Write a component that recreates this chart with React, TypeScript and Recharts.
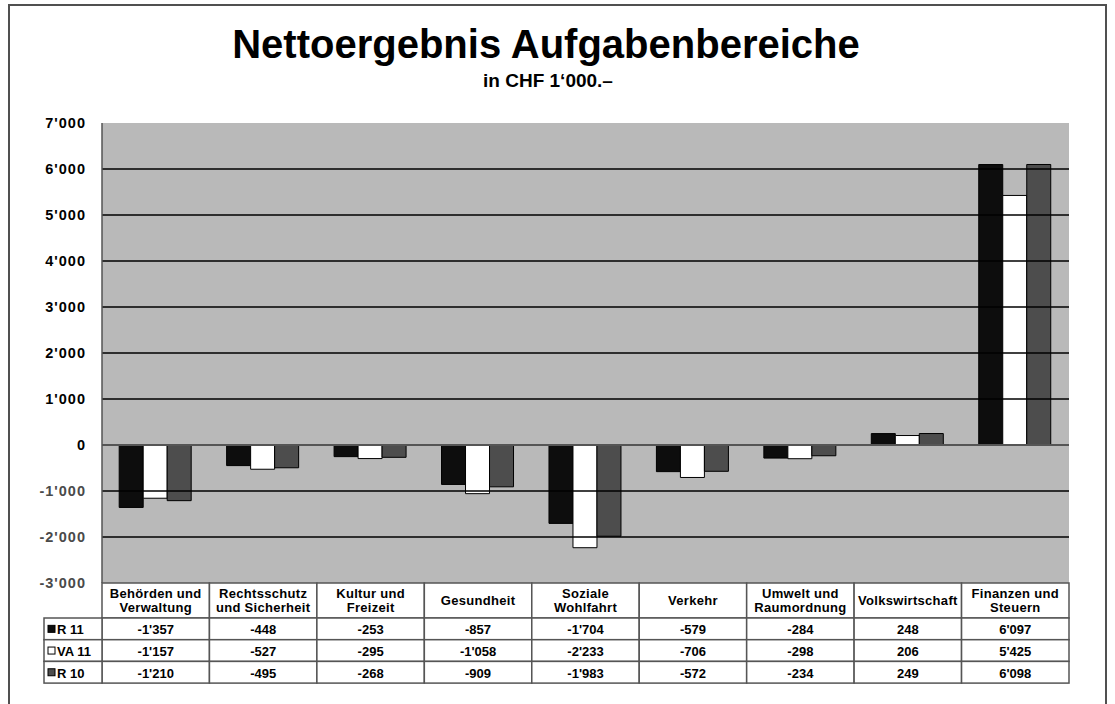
import React from 'react';
import { BarChart, Bar, XAxis, YAxis, CartesianGrid, ReferenceLine } from 'recharts';

const CATEGORIES = [
  'Behörden und\nVerwaltung',
  'Rechtsschutz\nund Sicherheit',
  'Kultur und\nFreizeit',
  'Gesundheit',
  'Soziale\nWohlfahrt',
  'Verkehr',
  'Umwelt und\nRaumordnung',
  'Volkswirtschaft',
  'Finanzen und\nSteuern',
];
const R11 = [-1357, -448, -253, -857, -1704, -579, -284, 248, 6097];
const VA11 = [-1157, -527, -295, -1058, -2233, -706, -298, 206, 5425];
const R10 = [-1210, -495, -268, -909, -1983, -572, -234, 249, 6098];
const Y_TICKS = [-3000, -2000, -1000, 0, 1000, 2000, 3000, 4000, 5000, 6000, 7000];
const GRID_VALUES = [-2000, -1000, 1000, 2000, 3000, 4000, 5000, 6000];

const SERIES = [
  { key: 'r11', name: 'R 11', values: R11, color: '#0d0d0d' },
  { key: 'va11', name: 'VA 11', values: VA11, color: '#ffffff' },
  { key: 'r10', name: 'R 10', values: R10, color: '#4d4d4d' },
];

const data = CATEGORIES.map((name, i) => ({
  name,
  r11: R11[i],
  va11: VA11[i],
  r10: R10[i],
}));

const FONT = '"Liberation Sans", Arial, sans-serif';
const W = 1115;
const H = 704;
const PLOT_LEFT = 102;
const PLOT_RIGHT = 1069;
const PLOT_TOP = 123;
const PLOT_BOTTOM = 583;
const COL_W = (PLOT_RIGHT - PLOT_LEFT) / CATEGORIES.length;
const HEAD_H = 35;
const ROW_H = 21.7;
const LEGEND_LEFT = 44;
const BORDER = '#555';

// thousands with apostrophe, e.g. -1'357
const fmt = (n: number): string => {
  if (n < 0) return '-' + fmt(-n);
  return String(n).replace(/\B(?=(\d{3})+(?!\d))/g, "'");
};

function YTick(props: any) {
  const { y, payload } = props;
  const v = payload.value;
  return (
    <text
      x={86}
      y={y}
      textAnchor="end"
      dominantBaseline="central"
      fontFamily={FONT}
      fontWeight="bold"
      fontSize={14.5}
      letterSpacing={1}
      fill={v < 0 ? '#4a4a4a' : '#000'}
    >
      {fmt(v)}
    </text>
  );
}

function TableTick(props: any) {
  const { x, payload } = props;
  const idx = CATEGORIES.indexOf(payload.value);
  const left = x - COL_W / 2;
  const top = PLOT_BOTTOM;
  const lines = String(payload.value).split('\n');
  const textProps = {
    fontFamily: FONT,
    fontWeight: 'bold' as const,
    fontSize: 13,
    fill: '#000',
  };
  return (
    <g>
      <rect x={left} y={top} width={COL_W} height={HEAD_H} fill="#fff" stroke={BORDER} strokeWidth={1.5} />
      {lines.map((ln, li) => (
        <text
          key={li}
          x={x}
          y={top + HEAD_H / 2 + (li - (lines.length - 1) / 2) * 14}
          textAnchor="middle"
          dominantBaseline="central"
          letterSpacing={0.3}
          {...textProps}
        >
          {ln}
        </text>
      ))}
      {SERIES.map((s, si) => {
        const ry = top + HEAD_H + si * ROW_H;
        return (
          <g key={s.key}>
            <rect x={left} y={ry} width={COL_W} height={ROW_H} fill="#fff" stroke={BORDER} strokeWidth={1.5} />
            <text x={x} y={ry + ROW_H / 2 + 1} textAnchor="middle" dominantBaseline="central" {...textProps}>
              {fmt(s.values[idx])}
            </text>
            {idx === 0 && (
              <g>
                <rect
                  x={LEGEND_LEFT}
                  y={ry}
                  width={left - LEGEND_LEFT}
                  height={ROW_H}
                  fill="#fff"
                  stroke={BORDER}
                  strokeWidth={1.5}
                />
                <rect
                  x={LEGEND_LEFT + 4}
                  y={ry + ROW_H / 2 - 3.5}
                  width={7}
                  height={7}
                  fill={s.color}
                  stroke="#000"
                  strokeWidth={1}
                />
                <text x={LEGEND_LEFT + 13} y={ry + ROW_H / 2 + 1} dominantBaseline="central" {...textProps}>
                  {s.name}
                </text>
              </g>
            )}
          </g>
        );
      })}
    </g>
  );
}

export default function App() {
  return (
    <div style={{ position: 'absolute', left: 0, top: 0, width: W, height: H, background: '#fff', overflow: 'hidden' }}>
      <div
        style={{
          position: 'absolute',
          left: 8,
          top: 4,
          width: 1095,
          height: 720,
          border: '2px solid #505050',
        }}
      />
      <div
        style={{
          position: 'absolute',
          left: 0,
          width: 1092,
          top: 24,
          textAlign: 'center',
          fontFamily: FONT,
          fontWeight: 'bold',
          fontSize: 40,
          lineHeight: '40px',
        }}
      >
        Nettoergebnis Aufgabenbereiche
      </div>
      <div
        style={{
          position: 'absolute',
          left: 0,
          width: 1096,
          top: 71,
          textAlign: 'center',
          fontFamily: FONT,
          fontWeight: 'bold',
          fontSize: 19,
          lineHeight: '19px',
        }}
      >
        in CHF 1‘000.–
      </div>
      <div style={{ position: 'absolute', left: 0, top: 0 }}>
        <BarChart
          width={W}
          height={H}
          data={data}
          margin={{ top: PLOT_TOP, right: W - PLOT_RIGHT, bottom: H - PLOT_BOTTOM - 100, left: PLOT_LEFT - 60 }}
          barCategoryGap="16%"
          barGap={0}
        >
          <CartesianGrid horizontal={false} vertical={false} fill="#b9b9b9" />
          {GRID_VALUES.map((v) => (
            <ReferenceLine key={v} y={v} stroke="#000" strokeWidth={1.3} />
          ))}
          <XAxis
            dataKey="name"
            height={100}
            interval={0}
            tickLine={false}
            axisLine={false}
            tick={<TableTick />}
          />
          <YAxis
            width={60}
            domain={[-3000, 7000]}
            ticks={Y_TICKS}
            interval={0}
            tickLine={false}
            axisLine={{ stroke: '#555', strokeWidth: 1.5 }}
            tick={<YTick />}
          />
          {SERIES.map((s) => (
            <Bar
              key={s.key}
              dataKey={s.key}
              name={s.name}
              fill={s.color}
              stroke="#000"
              strokeWidth={1}
              isAnimationActive={false}
            />
          ))}
          <ReferenceLine y={0} stroke="#555" strokeWidth={2} />
        </BarChart>
      </div>
    </div>
  );
}
